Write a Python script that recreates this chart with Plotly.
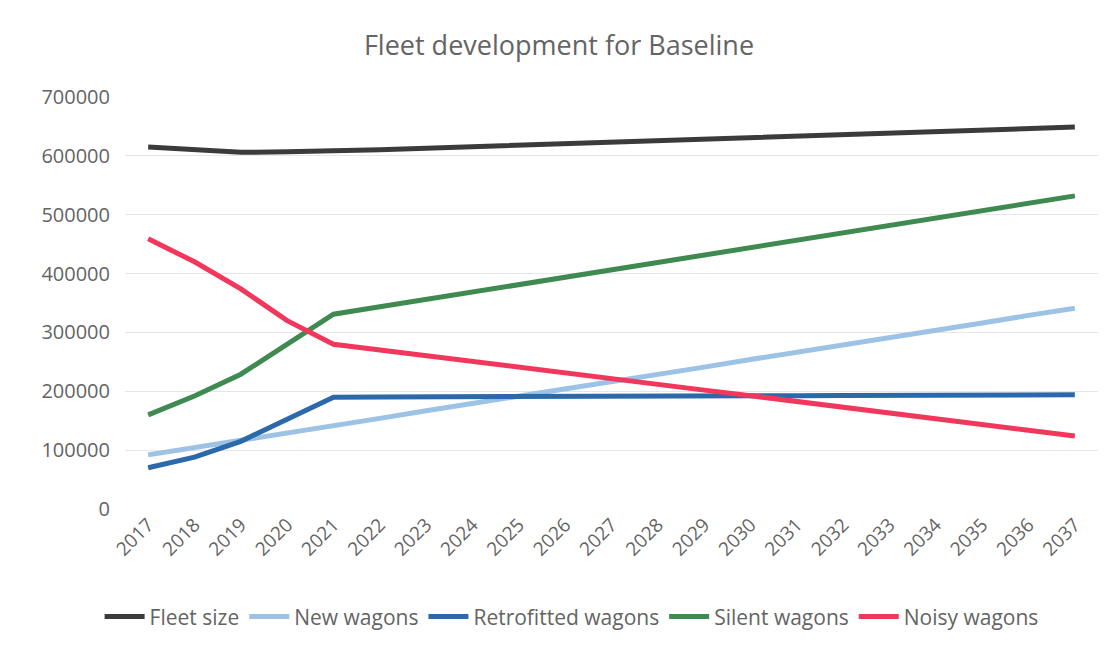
import plotly.graph_objects as go

years = [str(y) for y in range(2017, 2038)]
fleet_size = [615000, 610000, 606000, 607000, 608000, 610500, 613000, 615500, 618000, 620500,
              623000, 625500, 628000, 631000, 633500, 636000, 638500, 641000, 643500, 646000, 649000]
new_wagons = [92000, 104000, 117000, 129000, 142000, 154000, 167000, 179000, 192000, 204000,
              216000, 229000, 241000, 254000, 266000, 279000, 291000, 304000, 316000, 329000, 341000]
retrofitted = [70000, 88000, 115000, 152000, 190000, 190500, 190500, 191000, 191000, 191500,
               191500, 192000, 192000, 192500, 192500, 193000, 193000, 193500, 193500, 194000, 194000]
silent = [160000, 192000, 229000, 280000, 331000, 343500, 356000, 368500, 381000, 393500,
          406000, 418500, 431000, 443500, 456000, 468500, 481000, 493500, 506500, 519000, 532000]
noisy = [459000, 420000, 374000, 320000, 280000, 270000, 260500, 251000, 241000, 231500,
         221500, 212000, 202000, 192500, 182500, 173000, 163000, 153500, 143500, 134000, 124000]

series = [
    ("Fleet size", fleet_size, "#3b3b3b"),
    ("New wagons", new_wagons, "#9cc2e5"),
    ("Retrofitted wagons", retrofitted, "#2b69aa"),
    ("Silent wagons", silent, "#3f8a50"),
    ("Noisy wagons", noisy, "#f2375c"),
]

fig = go.Figure()
for name, vals, col in series:
    fig.add_trace(go.Scatter(x=years, y=vals, name=name, mode="lines",
                             line=dict(color=col, width=5)))

font_family = "'Open Sans', sans-serif"
text_col = "#646464"
fig.update_layout(
    width=1118, height=654,
    paper_bgcolor="white", plot_bgcolor="white",
    margin=dict(l=125, r=20, t=97, b=145),
    title=dict(text="Fleet development for Baseline", x=0.5, xanchor="center",
               y=0.93, yanchor="middle",
               font=dict(family=font_family, size=27, color=text_col)),
    font=dict(family=font_family, color=text_col),
    showlegend=True,
    legend=dict(orientation="h", x=0.459, xanchor="center", y=-0.262, yanchor="middle",
                font=dict(size=21, color=text_col), itemwidth=40,
                bgcolor="rgba(0,0,0,0)"),
    xaxis=dict(type="category", range=[-0.5, 20.5], tickangle=-45,
               tickfont=dict(size=19, color=text_col), showgrid=False,
               showline=False, ticks="", zeroline=False),
    yaxis=dict(range=[0, 700000], dtick=100000, tickformat="d",
               tickfont=dict(size=20, color=text_col), showgrid=True,
               gridcolor="#e6e6e6", gridwidth=1, zeroline=False, ticks="",
               ticklabelstandoff=14),
)

fig.write_html("out.html")
